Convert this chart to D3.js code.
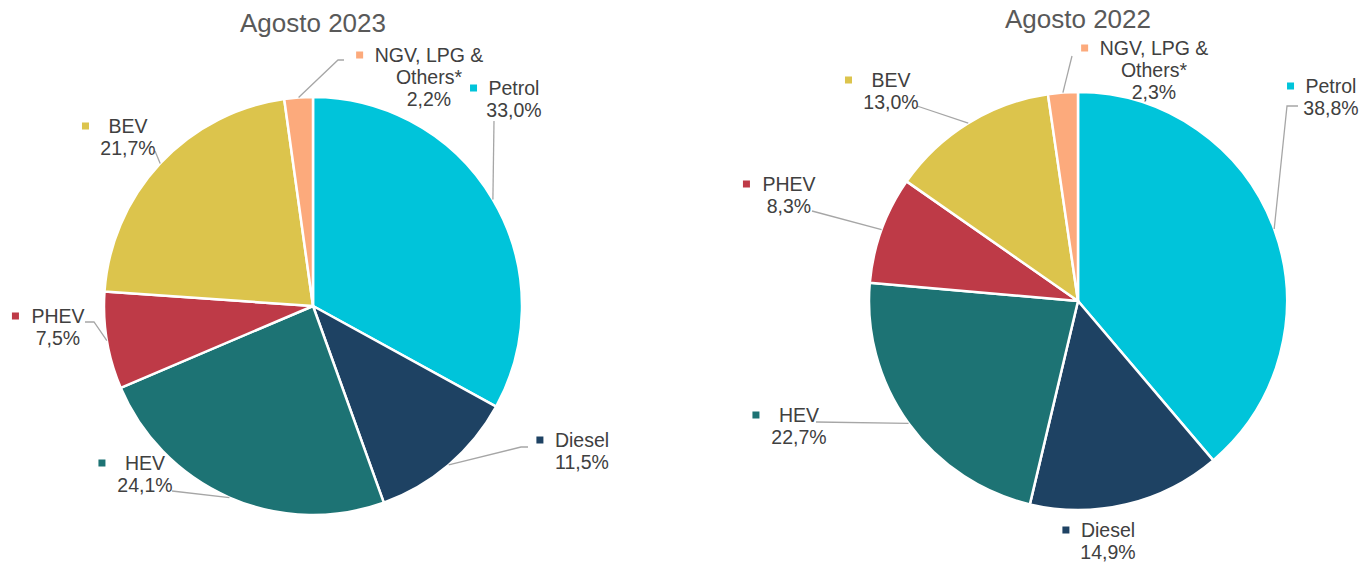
<!DOCTYPE html>
<html>
<head>
<meta charset="utf-8">
<script src="https://cdn.jsdelivr.net/npm/d3@7"></script>
<style>
  html, body { margin: 0; padding: 0; background: #ffffff; }
  svg { display: block; }
</style>
</head>
<body>
<svg id="chart" width="1359" height="562"></svg>
<script>
// ---------- DATA ----------
const categories = ["Petrol", "Diesel", "HEV", "PHEV", "BEV", "NGV, LPG & Others*"];
const nameLines  = [["Petrol"], ["Diesel"], ["HEV"], ["PHEV"], ["BEV"], ["NGV, LPG &", "Others*"]];
const values2023 = [33.0, 11.5, 24.1, 7.5, 21.7, 2.2];
const values2022 = [38.8, 14.9, 22.7, 8.3, 13.0, 2.3];
const titles     = ["Agosto 2023", "Agosto 2022"];

// ---------- STYLE / LAYOUT ----------
const colors = ["#00c4da", "#1e4263", "#1d7374", "#be3a47", "#dcc44c", "#fcaa7c"];
const markerGap = [15, 15, 23, 16, 23, 15];
const fontFamily = "'Liberation Sans', Arial, Helvetica, sans-serif";

const charts = [
  {
    title: titles[0], values: values2023, cx: 313, cy: 306, r: 209, titleY: 32,
    labels: [
      { x: 514, y: 95,  leader: [[494, 121]] },
      { x: 582, y: 447, leader: [[528, 447], [521, 447]] },
      { x: 145, y: 470, leader: [[172, 491]] },
      { x: 58,  y: 323, leader: [[85, 322], [94, 322]] },
      { x: 128, y: 133, leader: [[155, 151]] },
      { x: 429, y: 62,  leader: [[344, 60], [338, 60]] }
    ]
  },
  {
    title: titles[1], values: values2022, cx: 1078, cy: 301, r: 209, titleY: 28,
    labels: [
      { x: 1331, y: 93,  leader: [[1298, 106], [1287, 106]] },
      { x: 1108, y: 537, leader: [] },
      { x: 799,  y: 422, leader: [[816, 422]] },
      { x: 789,  y: 191, leader: [[812, 211]] },
      { x: 891,  y: 87,  leader: [[917, 106]] },
      { x: 1154, y: 55,  leader: [[1072, 56]] }
    ]
  }
];

const fmt = v => d3.format(".1f")(v).replace(".", ",") + "%";

const svg = d3.select("#chart");

charts.forEach(ch => {
  const g = svg.append("g");

  // title
  g.append("text")
    .attr("x", ch.cx).attr("y", ch.titleY)
    .attr("text-anchor", "middle")
    .attr("font-family", fontFamily)
    .attr("font-size", 26)
    .attr("fill", "#595959")
    .text(ch.title);

  const pie = d3.pie().sort(null).value(d => d.value);
  const data = pie(ch.values.map((v, i) => ({ value: v, i })));
  const arc = d3.arc().innerRadius(0).outerRadius(ch.r);
  const edgeArc = d3.arc().innerRadius(ch.r).outerRadius(ch.r);

  const pg = g.append("g").attr("transform", `translate(${ch.cx},${ch.cy})`);
  pg.selectAll("path.slice")
    .data(data)
    .join("path")
    .attr("class", "slice")
    .attr("d", arc)
    .attr("fill", d => colors[d.data.i])
    .attr("stroke", "#ffffff")
    .attr("stroke-width", 2.5)
    .attr("stroke-linejoin", "round");

  // leader lines
  const line = d3.line();
  data.forEach(d => {
    const lab = ch.labels[d.data.i];
    if (!lab.leader.length) return;
    const c = edgeArc.centroid(d);
    const pts = lab.leader.concat([[ch.cx + c[0], ch.cy + c[1]]]);
    g.append("path")
      .attr("d", line(pts))
      .attr("fill", "none")
      .attr("stroke", "#a6a6a6")
      .attr("stroke-width", 1.3);
  });

  // labels
  data.forEach(d => {
    const i = d.data.i;
    const lab = ch.labels[i];
    const lines = nameLines[i].concat([fmt(d.data.value)]);
    const lg = g.append("g");
    let firstText = null;
    lines.forEach((t, k) => {
      const tx = lg.append("text")
        .attr("x", lab.x)
        .attr("y", lab.y + k * 22)
        .attr("text-anchor", "middle")
        .attr("font-family", fontFamily)
        .attr("font-size", 19.5)
        .attr("fill", "#404040")
        .text(t);
      if (k === 0) firstText = tx;
    });
    const w = firstText.node().getComputedTextLength();
    const mx = lab.x - w / 2 - markerGap[i];
    lg.append("rect")
      .attr("x", mx - 3.5)
      .attr("y", lab.y - 7 - 3.5)
      .attr("width", 7).attr("height", 7)
      .attr("fill", colors[i]);
  });
});
</script>
</body>
</html>
